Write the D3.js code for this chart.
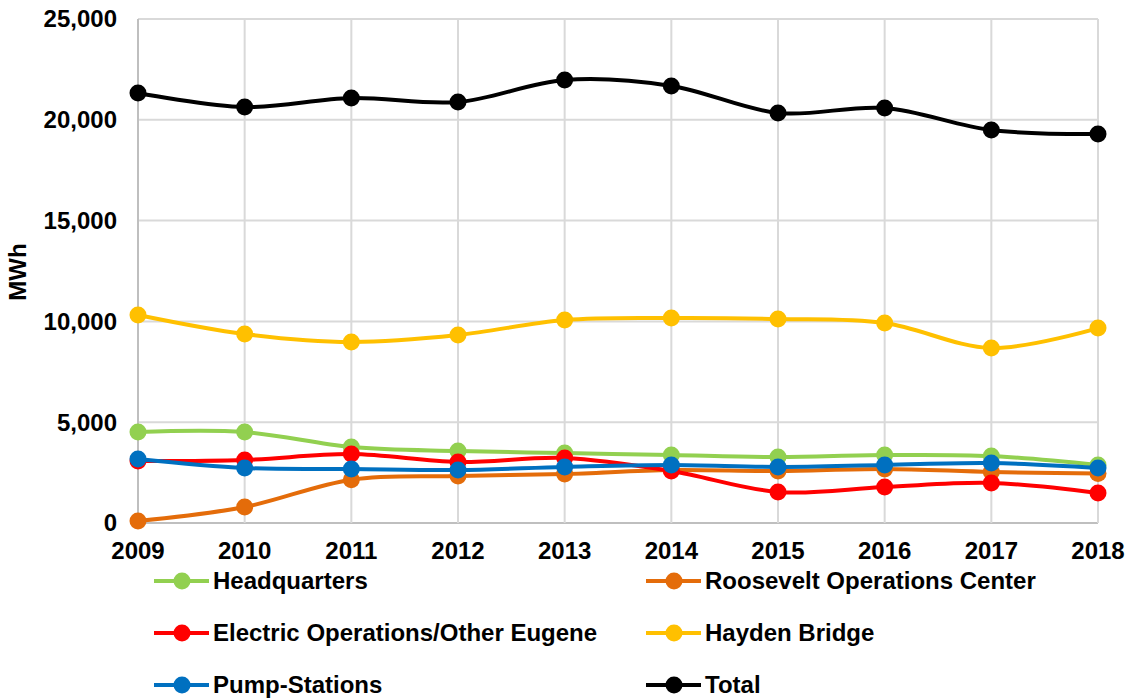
<!DOCTYPE html>
<html>
<head>
<meta charset="utf-8">
<script src="https://cdn.jsdelivr.net/npm/d3@7"></script>
<style>
  html, body { margin: 0; padding: 0; background: #fff; }
  svg text { font-family: "Liberation Sans", Arial, sans-serif; font-weight: bold; fill: #000; }
</style>
</head>
<body>
<svg id="chart" width="1130" height="700"></svg>
<script>
const years = [2009, 2010, 2011, 2012, 2013, 2014, 2015, 2016, 2017, 2018];
const yTicks = [0, 5000, 10000, 15000, 20000, 25000];

const headquarters = [4510, 4510, 3770, 3570, 3470, 3370, 3275, 3370, 3320, 2875];
const roosevelt    = [100, 795, 2150, 2330, 2430, 2630, 2580, 2680, 2530, 2450];
const electric     = [3075, 3125, 3420, 3025, 3225, 2580, 1540, 1785, 1985, 1490];
const hayden       = [10320, 9375, 8980, 9325, 10070, 10170, 10120, 9920, 8680, 9670];
const pump         = [3175, 2730, 2680, 2630, 2780, 2880, 2780, 2880, 2975, 2730];
const total        = [21330, 20635, 21080, 20880, 21975, 21680, 20340, 20585, 19495, 19295];

const seriesNames  = ["Headquarters", "Roosevelt Operations Center", "Electric Operations/Other Eugene", "Hayden Bridge", "Pump-Stations", "Total"];
const seriesValues = [headquarters, roosevelt, electric, hayden, pump, total];
const seriesColors = ["#92d050", "#e46c0a", "#ff0000", "#ffc000", "#0070c0", "#000000"];

const svg = d3.select("#chart");
const pLeft = 138, pRight = 1098, pTop = 19, pBottom = 523;

const x = d3.scalePoint().domain(years).range([pLeft, pRight]);
const y = d3.scaleLinear().domain([0, 25000]).range([pBottom, pTop]);

// gridlines
const grid = svg.append("g");
grid.selectAll("line.h").data(yTicks).join("line")
  .attr("x1", pLeft).attr("x2", pRight)
  .attr("y1", d => y(d)).attr("y2", d => y(d))
  .attr("stroke", d => d === 0 ? "#bfbfbf" : "#d9d9d9").attr("stroke-width", 2);
grid.selectAll("line.v").data(years).join("line")
  .attr("x1", d => x(d)).attr("x2", d => x(d))
  .attr("y1", pTop).attr("y2", pBottom)
  .attr("stroke", (d, i) => i === 0 ? "#bfbfbf" : "#d9d9d9").attr("stroke-width", 2);

// y axis labels
const fmt = d3.format(",");
svg.append("g").selectAll("text").data(yTicks).join("text")
  .attr("x", 117).attr("y", d => y(d))
  .attr("dy", "0.35em")
  .attr("text-anchor", "end")
  .style("font-size", "24px")
  .text(d => fmt(d));

// x axis labels
svg.append("g").selectAll("text").data(years).join("text")
  .attr("x", d => x(d)).attr("y", 559)
  .attr("text-anchor", "middle")
  .style("font-size", "24px")
  .text(d => d);

// y title
svg.append("text")
  .attr("transform", "translate(26,272) rotate(-90)")
  .attr("text-anchor", "middle")
  .style("font-size", "24px")
  .text("MWh");

// series
const line = d3.line()
  .x((d, i) => x(years[i]))
  .y(d => y(d))
  .curve(d3.curveCardinal.tension(0));

const gS = svg.append("g");
seriesValues.forEach((vals, si) => {
  const g = gS.append("g");
  g.append("path").datum(vals)
    .attr("d", line)
    .attr("fill", "none")
    .attr("stroke", seriesColors[si])
    .attr("stroke-width", 4)
    .attr("stroke-linejoin", "round");
  g.selectAll("circle").data(vals).join("circle")
    .attr("cx", (d, i) => x(years[i]))
    .attr("cy", d => y(d))
    .attr("r", 8.5)
    .attr("fill", seriesColors[si]);
});

// legend
const legendPos = [
  [154, 581], [646, 581],
  [154, 633], [646, 633],
  [154, 685], [646, 685]
];
const lg = svg.append("g");
seriesNames.forEach((name, i) => {
  const [lx, ly] = legendPos[i];
  lg.append("line")
    .attr("x1", lx).attr("x2", lx + 55)
    .attr("y1", ly).attr("y2", ly)
    .attr("stroke", seriesColors[i]).attr("stroke-width", 4);
  lg.append("circle")
    .attr("cx", lx + 28).attr("cy", ly).attr("r", 8.5)
    .attr("fill", seriesColors[i]);
  lg.append("text")
    .attr("x", lx + 59).attr("y", ly)
    .attr("dy", "0.35em")
    .style("font-size", "24px")
    .text(name);
});
</script>
</body>
</html>
